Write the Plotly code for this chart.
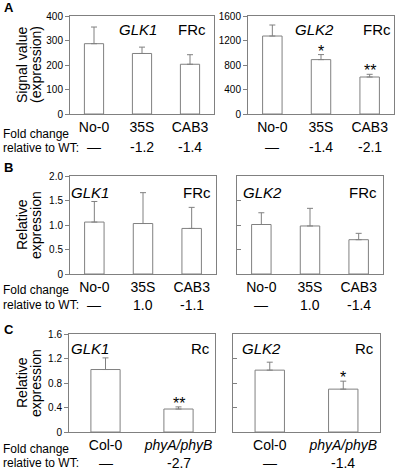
import plotly.graph_objects as go

W, H = 397, 471
GRAY = "#808080"
FONT = "Arial, Liberation Sans, sans-serif"

# ---- data ----
groups_ab = ["No-0", "35S", "CAB3"]
groups_c = ["Col-0", "phyA/phyB"]

a_glk1 = [287, 247, 203]
a_glk1_err = [68, 26, 39]
a_glk2 = [1273, 888, 604]
a_glk2_err = [180, 82, 44]

b_glk1 = [1.06, 1.03, 0.93]
b_glk1_err = [0.42, 0.63, 0.43]
b_glk2 = [1.01, 0.98, 0.70]
b_glk2_err = [0.24, 0.36, 0.13]

c_glk1 = [1.02, 0.375]
c_glk1_err = [0.19, 0.035]
c_glk2 = [1.01, 0.70]
c_glk2_err = [0.13, 0.13]

fold_a1 = ["—", "-1.2", "-1.4"]
fold_a2 = ["—", "-1.4", "-2.1"]
fold_b1 = ["—", "1.0", "-1.1"]
fold_b2 = ["—", "1.0", "-1.4"]
fold_c1 = ["—", "-2.7"]
fold_c2 = ["—", "-1.4"]

stars_a2 = ["", "*", "**"]
stars_c1 = ["", "**"]
stars_c2 = ["", "*"]


def fx(px):
    return px / W


def fy(py):
    return 1 - py / H


def note(text, x, y, size, xanchor="center", **kw):
    d = dict(text=text, x=x, y=y, xref="paper", yref="paper", showarrow=False,
             xanchor=xanchor, yanchor="middle",
             font=dict(size=size, color="black", family=FONT))
    d.update(kw)
    return d


# panel specs: pixel boxes (x0, x1, y0, y1)
panels = [
    dict(g=groups_ab, v=a_glk1, e=a_glk1_err, fold=fold_a1, stars=None,
         box=(70, 214, 16, 114), rng=[0, 400], tv=[0, 100, 200, 300, 400],
         tt=["0", "100", "200", "300", "400"], labels=True,
         gene=("GLK1", 138, 30), cond=("FRc", 192, 30), fold_y=147),
    dict(g=groups_ab, v=a_glk2, e=a_glk2_err, fold=fold_a2, stars=stars_a2,
         box=(248, 394, 16, 114), rng=[0, 1600], tv=[0, 400, 800, 1200, 1600],
         tt=["0", "400", "800", "1200", "1600"], labels=True,
         gene=("GLK2", 314, 30), cond=("FRc", 377, 30), fold_y=147),
    dict(g=groups_ab, v=b_glk1, e=b_glk1_err, fold=fold_b1, stars=None,
         box=(70, 216, 176, 274), rng=[0, 2], tv=[0, 0.5, 1, 1.5, 2],
         tt=["0", "0.5", "1.0", "1.5", "2.0"], labels=True,
         gene=("GLK1", 90, 192), cond=("FRc", 197, 192), fold_y=305),
    dict(g=groups_ab, v=b_glk2, e=b_glk2_err, fold=fold_b2, stars=None,
         box=(237, 383, 176, 274), rng=[0, 2], tv=[0.5, 1, 1.5],
         tt=["", "", ""], labels=False,
         gene=("GLK2", 262, 192), cond=("FRc", 363, 192), fold_y=305),
    dict(g=groups_c, v=c_glk1, e=c_glk1_err, fold=fold_c1, stars=stars_c1,
         box=(69, 215, 334, 432), rng=[0, 1.6], tv=[0, 0.4, 0.8, 1.2, 1.6],
         tt=["0", "0.4", "0.8", "1.2", "1.6"], labels=True,
         gene=("GLK1", 90, 348), cond=("Rc", 200, 348), fold_y=463),
    dict(g=groups_c, v=c_glk2, e=c_glk2_err, fold=fold_c2, stars=stars_c2,
         box=(233, 380, 334, 432), rng=[0, 1.6], tv=[0.4, 0.8, 1.2],
         tt=["", "", ""], labels=False,
         gene=("GLK2", 261, 348), cond=("Rc", 364, 348), fold_y=463),
]

fig = go.Figure()
annotations = []
layout = {}

for i, p in enumerate(panels):
    n = i + 1
    xa = "x" if n == 1 else f"x{n}"
    ya = "y" if n == 1 else f"y{n}"
    x0, x1, y0, y1 = p["box"]

    fig.add_trace(go.Bar(
        x=p["g"], y=p["v"], xaxis=xa, yaxis=ya, width=0.4,
        marker=dict(color="white", line=dict(color=GRAY, width=1)),
        error_y=dict(type="data", array=p["e"], arrayminus=[0] * len(p["e"]),
                     symmetric=False, color=GRAY, thickness=1, width=3),
        showlegend=False, hoverinfo="skip",
    ))

    ticktext = [t if t != "phyA/phyB" else "<i>phyA/phyB</i>" for t in p["g"]]
    layout["xaxis" if n == 1 else f"xaxis{n}"] = dict(
        domain=[fx(x0), fx(x1)], anchor=ya, type="category",
        range=[-0.5, len(p["g"]) - 0.5], automargin=False,
        tickvals=p["g"], ticktext=ticktext, ticks="",
        tickfont=dict(size=14, color="black", family=FONT),
        showline=True, mirror=True, linecolor=GRAY, linewidth=1,
        showgrid=False, zeroline=False,
    )
    layout["yaxis" if n == 1 else f"yaxis{n}"] = dict(
        domain=[fy(y1), fy(y0)], anchor=xa, range=p["rng"], automargin=False,
        tickvals=p["tv"], ticktext=p["tt"],
        ticks="outside" if p["labels"] else "inside", ticklen=4,
        tickcolor=GRAY, showticklabels=p["labels"],
        tickfont=dict(size=10, color="black", family=FONT),
        showline=True, mirror=True, linecolor=GRAY, linewidth=1,
        showgrid=False, zeroline=False,
    )

    gene, gx, gy = p["gene"]
    annotations.append(note(f"<i>{gene}</i>", fx(gx), fy(gy), 15))
    cond, cx, cy = p["cond"]
    annotations.append(note(cond, fx(cx), fy(cy), 15))

    for g, f in zip(p["g"], p["fold"]):
        annotations.append(note(f, g, fy(p["fold_y"]), 14, xref=xa))

    if p["stars"]:
        for g, v, e, s in zip(p["g"], p["v"], p["e"], p["stars"]):
            if s:
                annotations.append(note(s, g, v + e, 16, xref=xa, yref=ya,
                                        yanchor="bottom", yshift=-7))

# row-level text: panel letters, y titles, fold change captions
rows = [
    ("A", 8, ["Signal value", "(expression)"], 65, 134, 148),
    ("B", 168, ["Relative", "expression"], 225, 290, 305),
    ("C", 329, ["Relative", "expression"], 383, 449, 463),
]
for letter, ly, title, ty, fc_y, rel_y in rows:
    annotations.append(note(f"<b>{letter}</b>", fx(2), fy(ly), 13, xanchor="left"))
    for k, line in enumerate(title):
        annotations.append(note(line, fx(22 + 14 * k), fy(ty), 14, textangle=-90))
    annotations.append(note("Fold change", fx(1), fy(fc_y), 12, xanchor="left"))
    annotations.append(note("relative to WT:", fx(1), fy(rel_y), 12, xanchor="left"))

fig.update_layout(
    width=W, height=H, autosize=False,
    margin=dict(l=0, r=0, t=0, b=0),
    paper_bgcolor="white", plot_bgcolor="white",
    font=dict(family=FONT, color="black"),
    annotations=annotations,
    hovermode=False,
    **layout,
)

# drop the default page margin so the figure sits at the window's corner
fig.write_html("out.html", config={"displayModeBar": False},
               post_script="document.body.style.margin = '0';")
